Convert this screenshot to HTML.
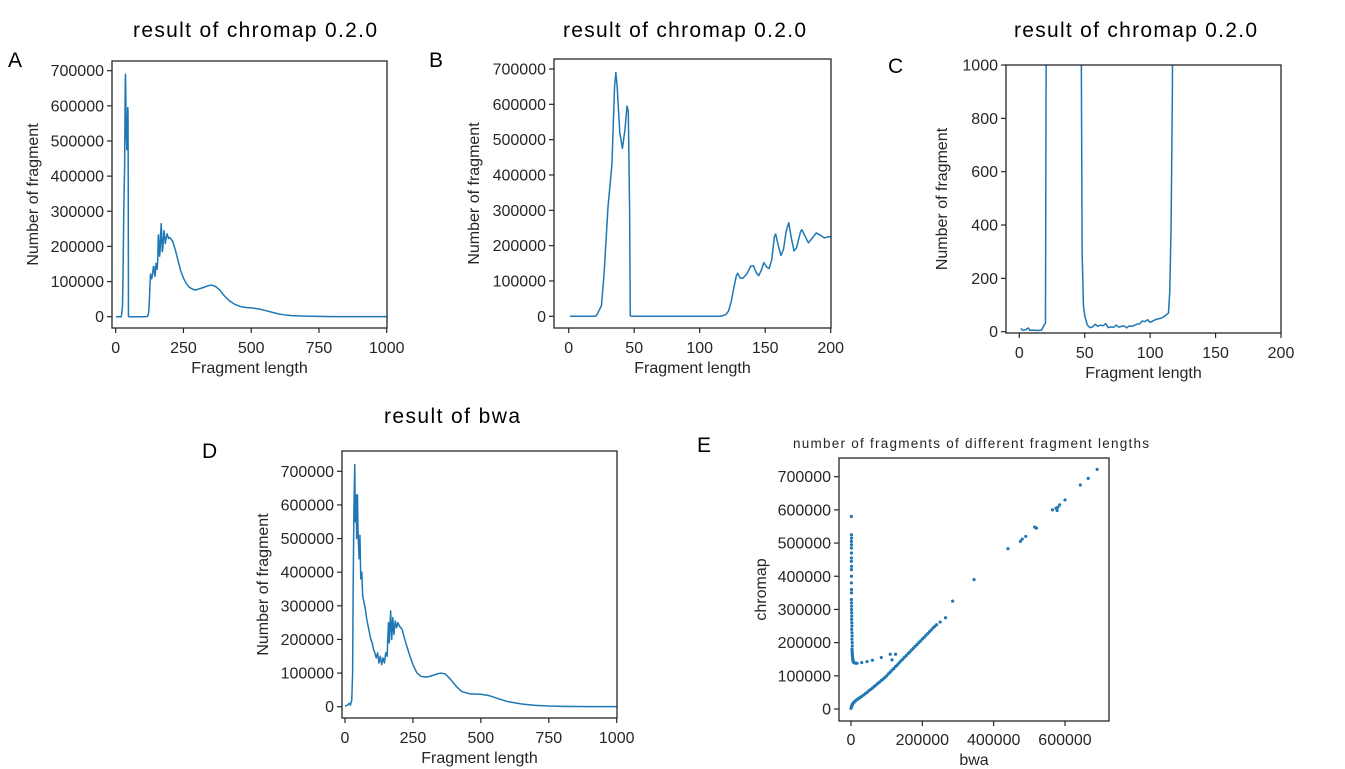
<!DOCTYPE html>
<html><head><meta charset="utf-8">
<style>
body{margin:0;background:#fff;}
svg{display:block;font-family:"Liberation Sans",Arial,sans-serif;}
.tk{font-size:16px;fill:#262626;}
.ttl{font-family:"Liberation Sans",sans-serif;font-size:21px;fill:#000;}
</style></head>
<body>
<svg id="fig" width="1345" height="769" viewBox="0 0 1345 769" xmlns="http://www.w3.org/2000/svg">
<text class="ttl" x="133" y="37" textLength="244">result of chromap 0.2.0</text>
<text class="ttl" x="563" y="37" textLength="243">result of chromap 0.2.0</text>
<text class="ttl" x="1014" y="37" textLength="243">result of chromap 0.2.0</text>
<text class="ttl" x="384" y="423" textLength="136">result of bwa</text>
<text class="ttl" x="8" y="67">A</text>
<text class="ttl" x="429" y="67">B</text>
<text class="ttl" x="888" y="73">C</text>
<text class="ttl" x="202" y="458">D</text>
<text class="ttl" x="697" y="452">E</text>
<text x="971" y="448" text-anchor="middle" font-size="13.5" fill="#262626" textLength="356">number of fragments of different fragment lengths</text>
</svg>
<script>
// chromap fragment length distribution
const chromapX=[1,3,5,7,8,10,12,15,17,19,
20,21,22,25,27,30,33,35,36,37,
39,41,43,44.5,45.5,46.5,47,48,49,50,
52,54,56,58,60,62,64,66,68,70,
72,74,76,78,80,82,84,86,88,90,
92,94,96,98,100,102,104,106,108,110,
112,114,115,116,117,118,120,122,124,126,
128,129,131,133,136,139,141,143,145,147,
149,151,153,155,157,158,160,162,164,166,
168,170,172,174,177,178,180,183,186,189,
192,195,198,200,210,220,230,240,250,260,
270,280,290,300,310,320,340,355,370,385,
400,420,440,460,480,500,520,540,560,580,
600,625,650,700,750,800,900,1000];
const chromapY=[12,5,8,14,5,6,5,5,6,25,
32,2000,8000,30000,120000,310000,430000,650000,690000,650000,
520000,475000,530000,595000,580000,300000,1500,300,100,60,
25,15,18,28,20,25,22,30,15,18,
16,25,17,20,22,14,22,20,24,28,
30,40,38,45,35,40,45,48,50,55,
62,70,150,400,900,2500,5000,15000,40000,80000,
115000,122000,108000,108000,120000,142000,143000,125000,115000,130000,
152000,140000,135000,160000,225000,233000,200000,172000,190000,240000,
265000,220000,185000,195000,240000,245000,230000,208000,222000,236000,
230000,222000,225000,225000,215000,190000,160000,130000,110000,95000,
85000,80000,76000,77000,80000,82000,88000,90000,85000,75000,
60000,45000,35000,29000,26000,25000,23000,20000,16000,12000,
8000,5000,3000,1500,800,300,100,50];
// bwa fragment length distribution
const bwaX=[0,10,15,20,25,28,30,33,36,38,41,43,46,48,52,55,58,62,65,70,75,80,85,90,95,100,105,110,115,120,125,130,135,140,145,150,155,160,163,168,172,176,180,185,190,195,200,210,220,235,250,265,280,300,320,340,355,370,390,410,430,460,500,530,560,600,650,700,750,800,900,1000];
const bwaY=[2000,5000,10000,5000,20000,100000,350000,600000,720000,550000,630000,500000,630000,520000,440000,510000,380000,400000,330000,310000,290000,260000,240000,220000,200000,190000,170000,160000,145000,160000,130000,150000,125000,145000,130000,160000,150000,250000,190000,285000,200000,265000,215000,255000,235000,250000,240000,230000,200000,160000,125000,100000,90000,88000,92000,98000,100000,97000,80000,60000,45000,38000,37000,33000,25000,15000,8000,4000,2000,1000,300,100];
// scatter: bwa count vs chromap count per fragment length
const scatBwa=[
1000,1200,1500,1000,1300,1100,1400,1200,1000,1500,1300,1200,1100,1400,1500,1200,1300,1600,1400,1800,2000,1700,2200,2500,2000,2800,3000,2600,3200,3500,
3000,3200,3500,3700,4000,4500,5000,5500,6000,7000,8000,10000,13000,17000,
30000,45000,60000,85000,110000,125000,115000,
0,1000,2000,3000,4000,5000,7000,9000,12000,15000,18000,22000,26000,30000,35000,40000,45000,50000,55000,60000,65000,70000,75000,80000,85000,90000,95000,100000,105000,110000,115000,120000,125000,130000,135000,140000,145000,150000,155000,160000,165000,170000,175000,180000,185000,190000,195000,200000,205000,210000,215000,220000,225000,230000,235000,240000,
250000,265000,285000,345000,440000,475000,480000,490000,515000,520000,565000,575000,578000,580000,585000,600000,643000,665000,690000];
const scatChromap=[
580000,525000,515000,505000,495000,485000,470000,455000,445000,430000,420000,400000,380000,360000,350000,330000,320000,310000,300000,290000,280000,270000,260000,250000,240000,230000,220000,210000,200000,190000,
180000,175000,170000,165000,160000,155000,150000,147000,144000,142000,140000,139000,138000,138000,
140000,143000,147000,155000,165000,165000,148000,
2000,6000,9000,12000,14000,16000,19000,21000,24000,27000,29000,32000,35000,38000,42000,46000,50000,55000,59000,63000,68000,72000,77000,81000,86000,90000,95000,100000,106000,111000,117000,122000,128000,133000,139000,145000,150000,156000,161000,167000,172000,178000,183000,189000,194000,200000,205000,211000,216000,222000,227000,233000,238000,244000,249000,254000,
262000,275000,325000,390000,483000,505000,512000,520000,548000,545000,600000,605000,598000,608000,615000,630000,675000,695000,722000];
const ticksA=[0,250,500,750,1000];
const ticksB=[0,50,100,150,200];
const ticksBig=[0,100000,200000,300000,400000,500000,600000,700000];
const ticksC=[0,200,400,600,800,1000];
const ticksE=[0,200000,400000,600000];

const NS="http://www.w3.org/2000/svg";
const svg=document.getElementById('fig');
function mk(tag,attrs,parent){const e=document.createElementNS(NS,tag);for(const k in attrs)e.setAttribute(k,attrs[k]);(parent||svg).appendChild(e);return e;}

function panel(p){
  const g=mk('g',{});
  
  
  const sx=v=>p.px0+(v-p.dx0)/(p.dx1-p.dx0)*(p.px1-p.px0);
  const sy=v=>p.py0+(v-p.dy0)/(p.dy1-p.dy0)*(p.py1-p.py0);
  const cid='clip-'+p.name;
  const cp=mk('clipPath',{id:cid},g);
  mk('rect',{x:p.bx0,y:p.by0,width:p.bx1-p.bx0,height:p.by1-p.by0},cp);
  if(p.lineX){
    let d='';
    for(let i=0;i<p.lineX.length;i++){d+=(i?'L':'M')+sx(p.lineX[i]).toFixed(2)+','+sy(p.lineY[i]).toFixed(2);}
    const path=mk('path',{d:d,fill:'none',stroke:'#1f77b4','stroke-width':1.5,'stroke-linejoin':'round','clip-path':'url(#'+cid+')'},g);
    
    
  }
  if(p.ptX){
    for(let i=0;i<p.ptX.length;i++){
      const c=mk('circle',{cx:sx(p.ptX[i]).toFixed(2),cy:sy(p.ptY[i]).toFixed(2),r:1.6,fill:'#1f77b4'},g);
      
      
    }
  }
  const box=mk('rect',{x:p.bx0,y:p.by0,width:p.bx1-p.bx0,height:p.by1-p.by0,fill:'none',stroke:'#262626','stroke-width':1.3},g);
  
  
  p.xt.forEach(v=>{
    const x=sx(v);
    mk('line',{x1:x,x2:x,y1:p.by1,y2:p.by1+5,stroke:'#262626','stroke-width':1.2},g);
    const t=mk('text',{x:x,y:p.xtb,'text-anchor':'middle',class:'tk'},g);
    t.textContent=v;
    
    
  });
  p.yt.forEach(v=>{
    const y=sy(v);
    mk('line',{x1:p.bx0-5,x2:p.bx0,y1:y,y2:y,stroke:'#262626','stroke-width':1.2},g);
    const t=mk('text',{x:p.bx0-8,y:y+5.5,'text-anchor':'end',class:'tk'},g);
    t.textContent=v;
    
    
  });
  const xl=mk('text',{x:(p.bx0+p.bx1)/2,y:p.xlb,'text-anchor':'middle',class:'tk'},g);
  xl.textContent=p.xlabel;
  
  
  const yl=mk('text',{x:0,y:0,'text-anchor':'middle',class:'tk',transform:'translate('+p.ylx+','+((p.by0+p.by1)/2)+') rotate(-90)'},g);
  yl.textContent=p.ylabel;
  
  
}

panel({name:'panel-a',bx0:112,bx1:387,by0:61,by1:328,dx0:0,dx1:1000,px0:115.7,px1:386.7,dy0:0,dy1:700000,py0:316.7,py1:70.7,
  lineX:chromapX,lineY:chromapY,xt:ticksA,yt:ticksBig,xtb:353,xlb:373,ylx:38,xlabel:'Fragment length',ylabel:'Number of fragment'});
panel({name:'panel-b',bx0:554,bx1:831,by0:59,by1:328,dx0:0,dx1:200,px0:568.7,px1:830.7,dy0:0,dy1:700000,py0:316.3,py1:69,
  lineX:chromapX,lineY:chromapY,xt:ticksB,yt:ticksBig,xtb:353,xlb:373,ylx:479,xlabel:'Fragment length',ylabel:'Number of fragment'});
panel({name:'panel-c',bx0:1006,bx1:1281,by0:65,by1:333,dx0:0,dx1:200,px0:1019.3,px1:1281,dy0:0,dy1:1000,py0:331.7,py1:65,
  lineX:chromapX,lineY:chromapY,xt:ticksB,yt:ticksC,xtb:358,xlb:378,ylx:947,xlabel:'Fragment length',ylabel:'Number of fragment'});
panel({name:'panel-d',bx0:342,bx1:617,by0:451,by1:718,dx0:0,dx1:1000,px0:345,px1:616.7,dy0:0,dy1:700000,py0:706.7,py1:471.3,
  lineX:bwaX,lineY:bwaY,xt:ticksA,yt:ticksBig,xtb:743,xlb:763,ylx:268,xlabel:'Fragment length',ylabel:'Number of fragment'});
panel({name:'panel-e',bx0:839,bx1:1109,by0:458,by1:721,dx0:0,dx1:600000,px0:851,px1:1065,dy0:0,dy1:700000,py0:709,py1:476.7,
  ptX:scatBwa,ptY:scatChromap,xt:ticksE,yt:ticksBig,xtb:745,xlb:765,ylx:766,xlabel:'bwa',ylabel:'chromap'});
</script>
</body></html>
